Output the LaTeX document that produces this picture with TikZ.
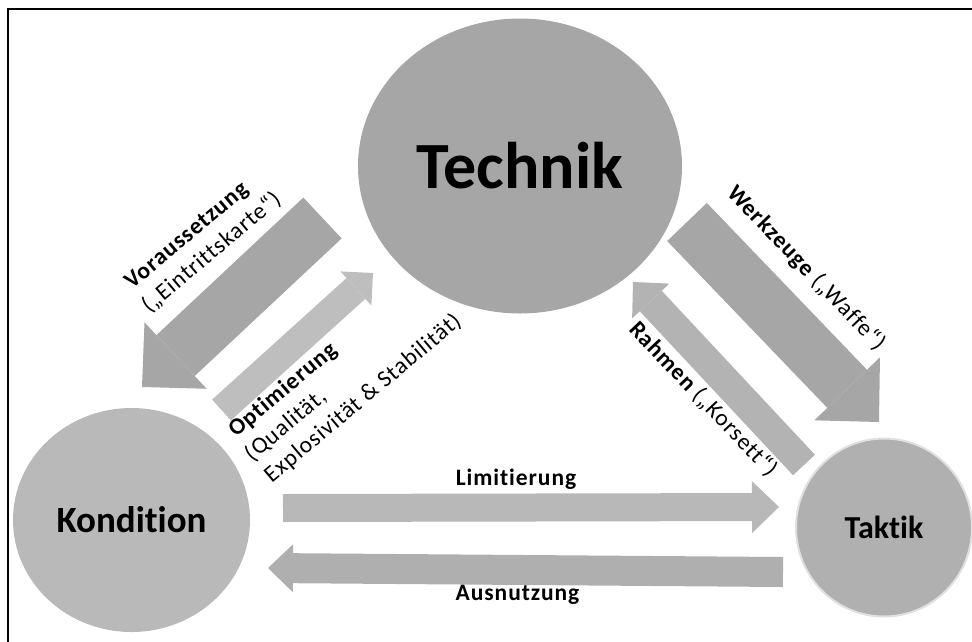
\documentclass[tikz,border=0pt]{standalone}
\usepackage{fontspec}
\setmainfont{Carlito}[RawFeature={-liga}]
\newfontfamily\labfont{Carlito}[LetterSpace=4, RawFeature={-liga}]
\usetikzlibrary{shapes.geometric,arrows.meta}

\definecolor{gDark}{HTML}{A6A6A6}
\definecolor{gKond}{HTML}{B9B9B9}
\definecolor{gTakt}{HTML}{B0B0B0}
\definecolor{gOpt}{HTML}{BEBEBE}
\definecolor{gRahm}{HTML}{B3B3B3}
\definecolor{gLim}{HTML}{B8B8B8}
\definecolor{gAus}{HTML}{AFAFAF}

\begin{document}
\begin{tikzpicture}[x=1pt,y=-1pt,
  blob/.style={ellipse, inner sep=0pt, font=\bfseries},
  fat/.style args={#1/#2/#3/#4}{draw=#1, line width=#2pt, line cap=butt,
    -{Triangle[length=#4pt, width=#3pt, line width=0pt]}},
  lab/.style={inner sep=0pt, anchor=base west, font=\labfont\fontsize{23.5}{27}\selectfont},
  midlab/.style={inner sep=0pt, anchor=base, font=\labfont\fontsize{23.5}{27}\selectfont\bfseries}]

\useasboundingbox (0,0) rectangle (972,641);
\clip (0,0) rectangle (972,641);

% frame (cropped at the right and bottom)
\draw[line width=1.6pt] (8,650) -- (8,9) -- (980,9);

% the three areas
\node[blob, fill=gDark, minimum width=324pt, minimum height=295pt,
  font=\bfseries\fontsize{66}{70}\selectfont] (tech) at (520,166) {Technik};
\node[blob, fill=gKond, minimum width=237pt, minimum height=224pt,
  font=\bfseries\fontsize{37}{40}\selectfont] (kond) at (131.5,520) {Kondition};
\node[blob, fill=gTakt, draw=black!12, line width=2pt, minimum width=176pt, minimum height=178pt,
  font=\bfseries\fontsize{32}{36}\selectfont] (takt) at (884,527.5) {Taktik};

% arrow end points
\coordinate (vorA) at (322.5,218);  \coordinate (vorB) at (142,387);
\coordinate (optA) at (221.5,410);  \coordinate (optB) at (373,273);
\coordinate (werA) at (687,222);    \coordinate (werB) at (879,422);
\coordinate (rahA) at (804,465);    \coordinate (rahB) at (633,282);
\coordinate (limA) at (283,508);    \coordinate (limB) at (779,507);
\coordinate (ausA) at (783,572);    \coordinate (ausB) at (268,568);

\draw[fat=gDark/56/91/46] (vorA) -- (vorB);
\draw[fat=gOpt/28/46/23] (optA) -- (optB);
\draw[fat=gDark/55/91/46] (werA) -- (werB);
\draw[fat=gRahm/30/51/26] (rahA) -- (rahB);
\draw[fat=gLim/28/52/27] (limA) -- (limB);
\draw[fat=gAus/30/48/25] (ausA) -- (ausB);

% labels along the arrows
\begin{scope}[shift={(132,290)}, rotate=40, transform shape]
  \node[lab] (vor1) at (0,0) {\bfseries Voraussetzung};
  \node[lab] (vor2) at (-2,29) {(„Eintrittskarte“)};
\end{scope}
\begin{scope}[shift={(236,438)}, rotate=40, transform shape]
  \node[lab] (opt1) at (0,0) {\bfseries Optimierung};
  \node[lab] (opt2) at (-3,29) {(Qualität,};
  \node[lab] (opt3) at (-2,58) {Explosivität \& Stabilität)};
\end{scope}
\begin{scope}[shift={(726,194)}, rotate=-46.3, transform shape]
  \node[lab] (wer) at (0,0) {{\bfseries Werkzeuge} („Waffe“)};
\end{scope}
\begin{scope}[shift={(628,330)}, rotate=-46.5, transform shape]
  \node[lab] (rah) at (0,0) {{\bfseries Rahmen} („Korsett“)};
\end{scope}
\node[midlab] (lim) at (516,485) {Limitierung};
\node[midlab] (aus) at (517.5,600) {Ausnutzung};

\end{tikzpicture}
\end{document}
